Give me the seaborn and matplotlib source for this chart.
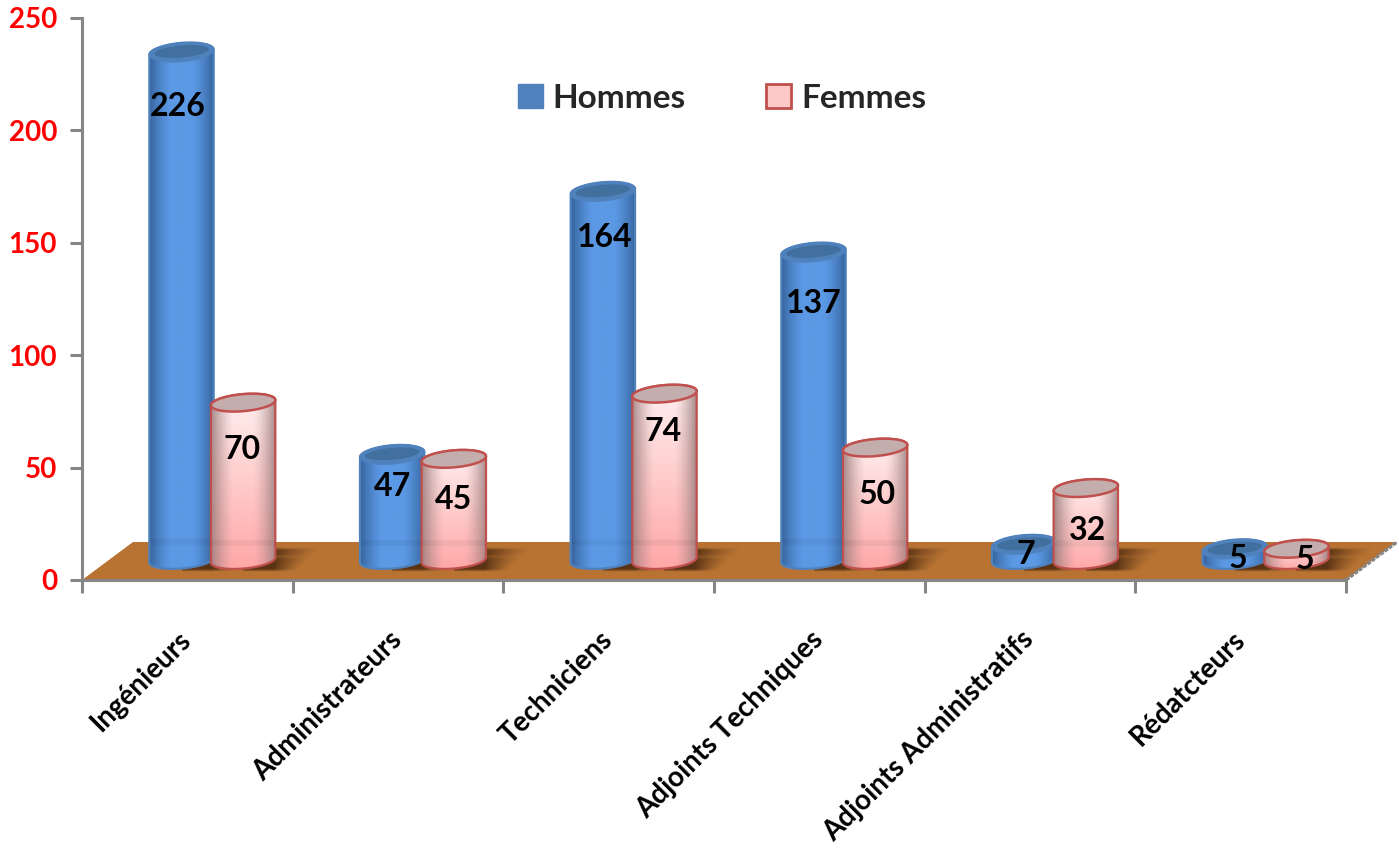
import matplotlib
matplotlib.use("Agg")
import matplotlib.pyplot as plt
import numpy as np
import pandas as pd
import seaborn as sns
from matplotlib.patches import Patch, PathPatch, Polygon
from matplotlib.path import Path
from matplotlib.transforms import Affine2D, IdentityTransform

categories = ["Ingénieurs", "Administrateurs", "Techniciens",
              "Adjoints Techniques", "Adjoints Administratifs", "Rédatcteurs"]
hommes = [226, 47, 164, 137, 7, 5]
femmes = [70, 45, 74, 50, 32, 5]
y_ticks = [0, 50, 100, 150, 200, 250]

# label placement: pixels below the cylinder top, and sideways from its centre
label_drop = [55, 47, 32, 41, 46, 38, 51, 47, 10, 42, 10, 11]
label_dx = [-4, -1, 0, 0, 2, -1, 0, 2, 2, 2, 3, 8]

BLUE_EDGE = "#4f81bd"
RED_EDGE = "#c0504d"
GREY = "#868686"
FLOOR = "#b87333"
W, H = 1399, 850


def ellipse_points(cx, cy, a, b, t, tilt=np.radians(5)):
    x = a * np.cos(t)
    y = b * np.sin(t)
    return np.column_stack([cx + x * np.cos(tilt) - y * np.sin(tilt),
                            cy + x * np.sin(tilt) + y * np.cos(tilt)])


def add_image(ax, arr, x0, x1, y0, y1, clip, zorder):
    im = ax.imshow(arr, extent=[x0, x1, y0, y1], origin="lower", aspect="auto",
                   transform=IdentityTransform(), zorder=zorder, interpolation="bilinear")
    im.set_clip_box(ax.figure.bbox)
    im.set_clip_path(clip, IdentityTransform())
    return im


def body_shading(is_men, x0, x1, y0, y1, seam_y):
    rows, cols = 160, 80
    u = np.linspace(0, 1, cols)[None, :]
    v = np.linspace(0, 1, rows)[:, None]
    d = np.clip((np.abs(2 * u - 1) - 0.3) / 0.7, 0, 1) ** 1.4
    if is_men:
        base = np.array([0.36, 0.60, 0.90]) * np.ones((rows, cols, 3))
        edge = np.array([0.20, 0.38, 0.60])
    else:
        low = np.array([1.0, 0.65, 0.65])
        high = np.array([1.0, 0.95, 0.95])
        base = (low[None, None, :] * (1 - v[:, :, None]) + high[None, None, :] * v[:, :, None])
        base = np.repeat(base, cols, axis=1)
        edge = np.array([0.62, 0.50, 0.50])
        d = d * 0.95
    rgb = base * (1 - d[:, :, None]) + edge * d[:, :, None]
    ys = y0 + (y1 - y0) * v[:, 0]
    seam = (ys > seam_y - 5) & (ys < seam_y + 1)
    rgb[seam] *= 0.95
    return rgb


def draw_cylinder(ax, patch, shift, is_men, order, floor_y):
    x, w, h = patch.get_x(), patch.get_width(), patch.get_height()
    (xl, yb), (xr, yt) = shift.transform([(x, 0), (x + w, h)])
    cx = (xl + xr) / 2
    a = (xr - xl) / 2 + 1.5
    b = 8.5
    zo = 3 + order * 0.1

    t_low = np.linspace(np.pi, 2 * np.pi, 50)
    t_up = np.linspace(0, np.pi, 50)
    outline = np.vstack([ellipse_points(cx, yb, a, b, t_low), ellipse_points(cx, yt, a, b, t_up)])
    outline_path = Path(np.vstack([outline, outline[0]]), closed=True)

    # the seaborn bar stays as the base colour, cut to the cylinder shape
    patch.set_transform(Affine2D().translate(0, 0) + shift)
    patch.set_zorder(zo)
    patch.set_clip_box(ax.figure.bbox)
    patch.set_clip_path(outline_path, IdentityTransform())

    top = yt + b + 4
    low = yb - b - 4
    rgb = body_shading(is_men, cx - a - 1, cx + a + 1, low, top, floor_y)
    add_image(ax, rgb, cx - a - 1, cx + a + 1, low, top, outline_path, zo + 0.01)

    edge = BLUE_EDGE if is_men else RED_EDGE
    ax.add_patch(PathPatch(outline_path, fc="none", ec=edge, lw=1.6, transform=IdentityTransform(),
                           zorder=zo + 0.02, clip_on=False))
    t = np.linspace(0, 2 * np.pi, 100)
    if is_men:
        ax.add_patch(Polygon(ellipse_points(cx, yt, a, b + 1, t), fc=BLUE_EDGE, ec=BLUE_EDGE, lw=1,
                             transform=IdentityTransform(), zorder=zo + 0.03, clip_on=False))
        ax.add_patch(Polygon(ellipse_points(cx, yt + 0.5, a - 5, b - 2.5, t), fc="#41709f", ec="none",
                             transform=IdentityTransform(), zorder=zo + 0.04, clip_on=False))
    else:
        ax.add_patch(Polygon(ellipse_points(cx, yt, a, b, t), fc="#c3adad", ec=RED_EDGE, lw=1.8,
                             transform=IdentityTransform(), zorder=zo + 0.03, clip_on=False))
    return cx, yt, xr, yb


def draw_shadow(ax, xl, xr, yb, floor_path):
    rows, cols = 40, 120
    x1 = xr + 50
    xs = np.linspace(xl, x1, cols)[None, :]
    v = np.linspace(0, 1, rows)[:, None]
    reach = 0.45 + 0.55 * v
    fade = np.clip(1 - (xs - xr) / (50 * reach), 0, 1) ** 1.3
    window = np.clip(np.minimum(v, 1 - v) * 9, 0, 1)
    streak = 1 - 0.35 * np.exp(-((v - 0.62) / 0.06) ** 2)
    arr = np.zeros((rows, cols, 4))
    arr[:, :, :3] = (0.26, 0.14, 0.05)
    arr[:, :, 3] = 0.8 * fade * window * streak
    add_image(ax, arr, xl, x1, yb - 12, yb + 13, floor_path, 1.5)


sns.set_theme(style="white")
plt.rcParams["font.family"] = ["Lato", "DejaVu Sans"]

df = pd.DataFrame({
    "categorie": categories * 2,
    "sexe": ["Hommes"] * len(categories) + ["Femmes"] * len(categories),
    "effectif": hommes + femmes,
})

fig = plt.figure(figsize=(W / 100, H / 100), dpi=100)
ax = fig.add_axes([82 / W, 1 - 580 / H, 1264 / W, 562 / H])
sns.barplot(data=df, x="categorie", y="effectif", hue="sexe", hue_order=["Hommes", "Femmes"],
            palette=[BLUE_EDGE, "#ffc8c8"], width=0.585, gap=0, errorbar=None, legend=False,
            linewidth=0, ax=ax)

ax.set_xlim(-0.5, len(categories) - 0.5)
ax.set_ylim(0, 250)
ax.set_autoscale_on(False)
ax.set_xlabel("")
ax.set_ylabel("")

# floor: the depth of the 3D box, sits behind the bars
depth = Affine2D().translate(51, 38)
corners = ax.transData.transform([(-0.5, 0), (len(categories) - 0.5, 0)])
back = depth.transform(corners)
floor_pts = np.array([corners[0], corners[1], back[1], back[0]])
ax.add_patch(Polygon(floor_pts, fc=FLOOR, ec="none", transform=IdentityTransform(), zorder=1, clip_on=False))
ax.plot(floor_pts[[1, 2], 0], floor_pts[[1, 2], 1], color=GREY, lw=2.4, ls=(0, (1.2, 0.4)),
        transform=IdentityTransform(), zorder=2, clip_on=False)
floor_path = Path(np.vstack([floor_pts, floor_pts[0]]), closed=True)
floor_y = floor_pts[2, 1]

shift = ax.transData + Affine2D().translate(25, 20)
bars = [p for p in ax.patches if isinstance(p, plt.Rectangle) and p.get_height() > 0]
bars = sorted(bars, key=lambda p: p.get_x())
values = [v for pair in zip(hommes, femmes) for v in pair]

for i, (patch, val) in enumerate(zip(bars, values)):
    is_men = i % 2 == 0
    cx, yt, xr, yb = draw_cylinder(ax, patch, shift, is_men, i, floor_y)
    draw_shadow(ax, cx, xr, yb, floor_path)
    ax.text(cx + label_dx[i], yt - label_drop[i], str(val), transform=IdentityTransform(), ha="center",
            va="center", fontsize=23, fontweight="bold", color="black", zorder=10, clip_on=False)

for side in ["top", "right"]:
    ax.spines[side].set_visible(False)
for side in ["left", "bottom"]:
    ax.spines[side].set_color(GREY)
    ax.spines[side].set_linewidth(2.2)
    ax.spines[side].set_zorder(2)

ax.set_yticks(y_ticks)
ax.set_yticklabels([str(v) for v in y_ticks], fontsize=20, fontweight="bold", color="#ff0000")
ax.tick_params(axis="y", length=9, width=2.2, color=GREY, pad=9, left=True)

ax.set_xticks(range(len(categories)))
ax.set_xticklabels(categories, rotation=45, ha="right", va="center", rotation_mode="anchor",
                   fontsize=20, fontweight="bold", color="black")
ax.set_xticks(np.arange(-0.5, len(categories)), minor=True)
ax.tick_params(axis="x", which="major", length=0, pad=40)
ax.tick_params(axis="x", which="minor", length=9, width=2.2, color=GREY, bottom=True)

handles = [Patch(fc=BLUE_EDGE, ec=BLUE_EDGE, label="Hommes"),
           Patch(fc="#ffc8c8", ec=RED_EDGE, lw=2, label="Femmes")]
ax.legend(handles=handles, ncol=2, frameon=False, loc="center", prop={"size": 24, "weight": "bold"},
          bbox_to_anchor=(722 / W, 1 - 98 / H), bbox_transform=fig.transFigure,
          handlelength=0.75, handleheight=0.75, handletextpad=0.3, columnspacing=2.4, borderpad=0)

fig.savefig("out.png", dpi=100)
plt.close(fig)
